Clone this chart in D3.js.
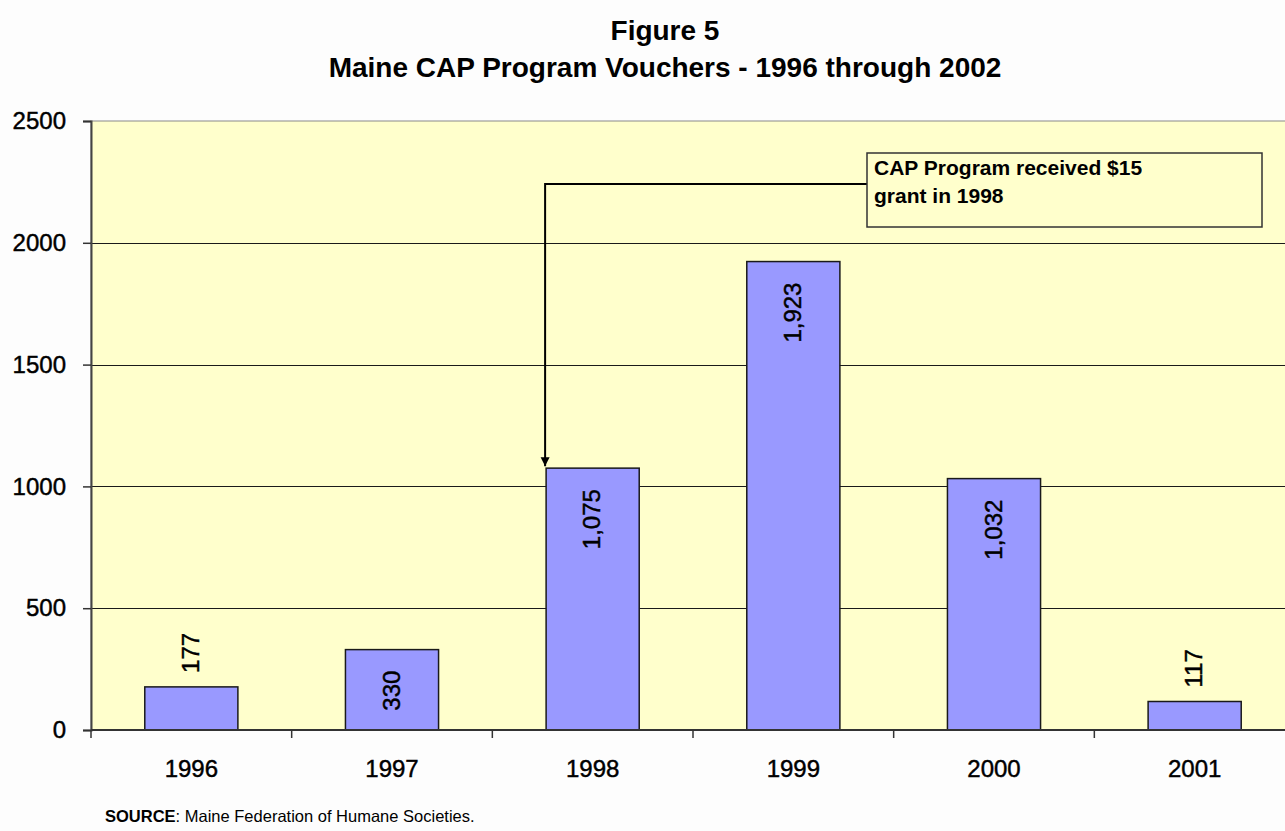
<!DOCTYPE html>
<html>
<head>
<meta charset="utf-8">
<script src="https://cdn.jsdelivr.net/npm/d3@7"></script>
<style>
  html, body { margin: 0; padding: 0; background: #fdfdfd; }
  svg { display: block; font-family: Arial, "Liberation Sans", sans-serif; }
  .grid line { stroke: #1a1a1a; stroke-width: 1.2; }
  .bar { fill: #9999ff; stroke: #1a1a1a; stroke-width: 1.5; }
  .heavy { stroke: #000; stroke-width: 0.45; }
</style>
</head>
<body>
<div id="chart"></div>
<script>
/* ===== Data ===== */
const years = ["1996", "1997", "1998", "1999", "2000", "2001"];
const vouchers = [177, 330, 1075, 1923, 1032, 117];
const yTicks = [0, 500, 1000, 1500, 2000, 2500];
const titleLines = ["Figure 5", "Maine CAP Program Vouchers - 1996 through 2002"];
const noteLines = ["CAP Program received $150,000", "grant in 1998"];
const noteYear = "1998";

/* ===== Layout ===== */
const W = 1285, H = 831;
const plot = { left: 91, right: 1295, top: 121, bottom: 730 };

const svg = d3.select("#chart").append("svg")
  .attr("width", W).attr("height", H)
  .attr("viewBox", [0, 0, W, H]);

svg.append("rect")
  .attr("width", W).attr("height", H)
  .attr("fill", "#fdfdfd");

const x = d3.scaleBand()
  .domain(years)
  .range([plot.left, plot.right])
  .paddingInner(0.536)
  .paddingOuter(0.268);

const y = d3.scaleLinear()
  .domain([0, 2500])
  .range([plot.bottom, plot.top]);

/* ===== Plot area ===== */
svg.append("rect")
  .attr("x", plot.left).attr("y", plot.top)
  .attr("width", plot.right - plot.left)
  .attr("height", plot.bottom - plot.top)
  .attr("fill", "#ffffcc")
  .attr("stroke", "#8a8a8a")
  .attr("stroke-width", 1);

// gridlines (skip 0 and the top border)
svg.append("g").attr("class", "grid")
  .selectAll("line")
  .data(yTicks.filter(t => t > 0 && t < 2500))
  .join("line")
  .attr("x1", plot.left).attr("x2", plot.right)
  .attr("y1", d => Math.round(y(d)) + 0.5)
  .attr("y2", d => Math.round(y(d)) + 0.5);

/* ===== Bars ===== */
svg.append("g")
  .selectAll("rect")
  .data(years.map((yr, i) => ({ year: yr, value: vouchers[i] })))
  .join("rect")
  .attr("class", "bar")
  .attr("x", d => x(d.year))
  .attr("y", d => y(d.value))
  .attr("width", x.bandwidth())
  .attr("height", d => y(0) - y(d.value));

/* ===== Axes ===== */
const yAxis = svg.append("g")
  .attr("transform", `translate(${plot.left},0)`)
  .call(d3.axisLeft(y).tickValues(yTicks).tickSize(8).tickPadding(17).tickFormat(d3.format("d")));
yAxis.select(".domain").attr("stroke", "#444").attr("stroke-width", 2);
yAxis.selectAll(".tick line").attr("stroke", "#333").attr("stroke-width", 1.5);
yAxis.selectAll(".tick text")
  .attr("class", "heavy")
  .attr("font-size", 24)
  .attr("font-family", "Arial, 'Liberation Sans', sans-serif")
  .attr("fill", "#000");

// x axis baseline
svg.append("line")
  .attr("x1", plot.left).attr("x2", plot.right)
  .attr("y1", plot.bottom).attr("y2", plot.bottom)
  .attr("stroke", "#333").attr("stroke-width", 2);

// ticks sit between categories
const gap = (x.step() - x.bandwidth()) / 2;
svg.append("g")
  .selectAll("line")
  .data(years)
  .join("line")
  .attr("x1", d => x(d) - gap).attr("x2", d => x(d) - gap)
  .attr("y1", plot.bottom).attr("y2", plot.bottom + 8)
  .attr("stroke", "#333").attr("stroke-width", 1.5);

svg.append("g")
  .selectAll("text")
  .data(years)
  .join("text")
  .attr("class", "heavy")
  .attr("x", d => x(d) + x.bandwidth() / 2)
  .attr("y", 777)
  .attr("text-anchor", "middle")
  .attr("font-size", 24)
  .text(d => d);

/* ===== Value labels (rotated) ===== */
const fmt = d3.format(",");
svg.append("g")
  .selectAll("text")
  .data(years.map((yr, i) => ({ year: yr, value: vouchers[i] })))
  .join("text")
  .attr("class", "heavy")
  .attr("font-size", 24)
  .attr("dy", "0.32em")
  .each(function (d) {
    const t = d3.select(this).text(fmt(d.value));
    const len = this.getComputedTextLength();
    const barH = y(0) - y(d.value);
    const inside = barH >= len + 30;
    t.attr("text-anchor", inside ? "end" : "start")
      .attr("x", inside ? -21 : 14)
      .attr("transform", `translate(${x(d.year) + x.bandwidth() / 2},${y(d.value)}) rotate(-90)`);
  });

/* ===== Title ===== */
svg.append("g")
  .selectAll("text")
  .data(titleLines)
  .join("text")
  .attr("x", 665)
  .attr("y", (d, i) => i === 0 ? 40 : 77)
  .attr("text-anchor", "middle")
  .attr("font-size", 28)
  .attr("font-weight", "bold")
  .text(d => d);

/* ===== Annotation ===== */
const box = { x: 867, y: 153, w: 395, h: 74 };

const defs = svg.append("defs");
defs.append("clipPath")
  .attr("id", "noteClip")
  .append("rect")
  .attr("x", box.x).attr("y", box.y)
  .attr("width", 275).attr("height", box.h);

defs.append("marker")
  .attr("id", "arrowHead")
  .attr("viewBox", "0 0 10 10")
  .attr("refX", 10).attr("refY", 5)
  .attr("markerWidth", 9).attr("markerHeight", 11)
  .attr("markerUnits", "userSpaceOnUse")
  .attr("orient", "auto")
  .append("path")
  .attr("d", "M0,0 L10,5 L0,10 Z")
  .attr("fill", "#000");

const arrowX = x(noteYear) - 1;
const leaderY = box.y + 31;
svg.append("path")
  .attr("d", `M${box.x},${leaderY} H${arrowX} V${y(vouchers[years.indexOf(noteYear)]) - 2}`)
  .attr("fill", "none")
  .attr("stroke", "#000")
  .attr("stroke-width", 2)
  .attr("marker-end", "url(#arrowHead)");

svg.append("rect")
  .attr("x", box.x).attr("y", box.y)
  .attr("width", box.w).attr("height", box.h)
  .attr("fill", "#ffffcc")
  .attr("stroke", "#333")
  .attr("stroke-width", 1.5);

svg.append("g")
  .attr("clip-path", "url(#noteClip)")
  .selectAll("text")
  .data(noteLines)
  .join("text")
  .attr("x", box.x + 7)
  .attr("y", (d, i) => box.y + 22 + i * 28)
  .attr("font-size", 21)
  .attr("font-weight", "bold")
  .text(d => d);

/* ===== Source ===== */
const src = svg.append("text")
  .attr("x", 105).attr("y", 822)
  .attr("font-size", 16.5);
src.append("tspan").attr("font-weight", "bold").text("SOURCE");
src.append("tspan").text(":  Maine Federation of Humane Societies.");
</script>
</body>
</html>
